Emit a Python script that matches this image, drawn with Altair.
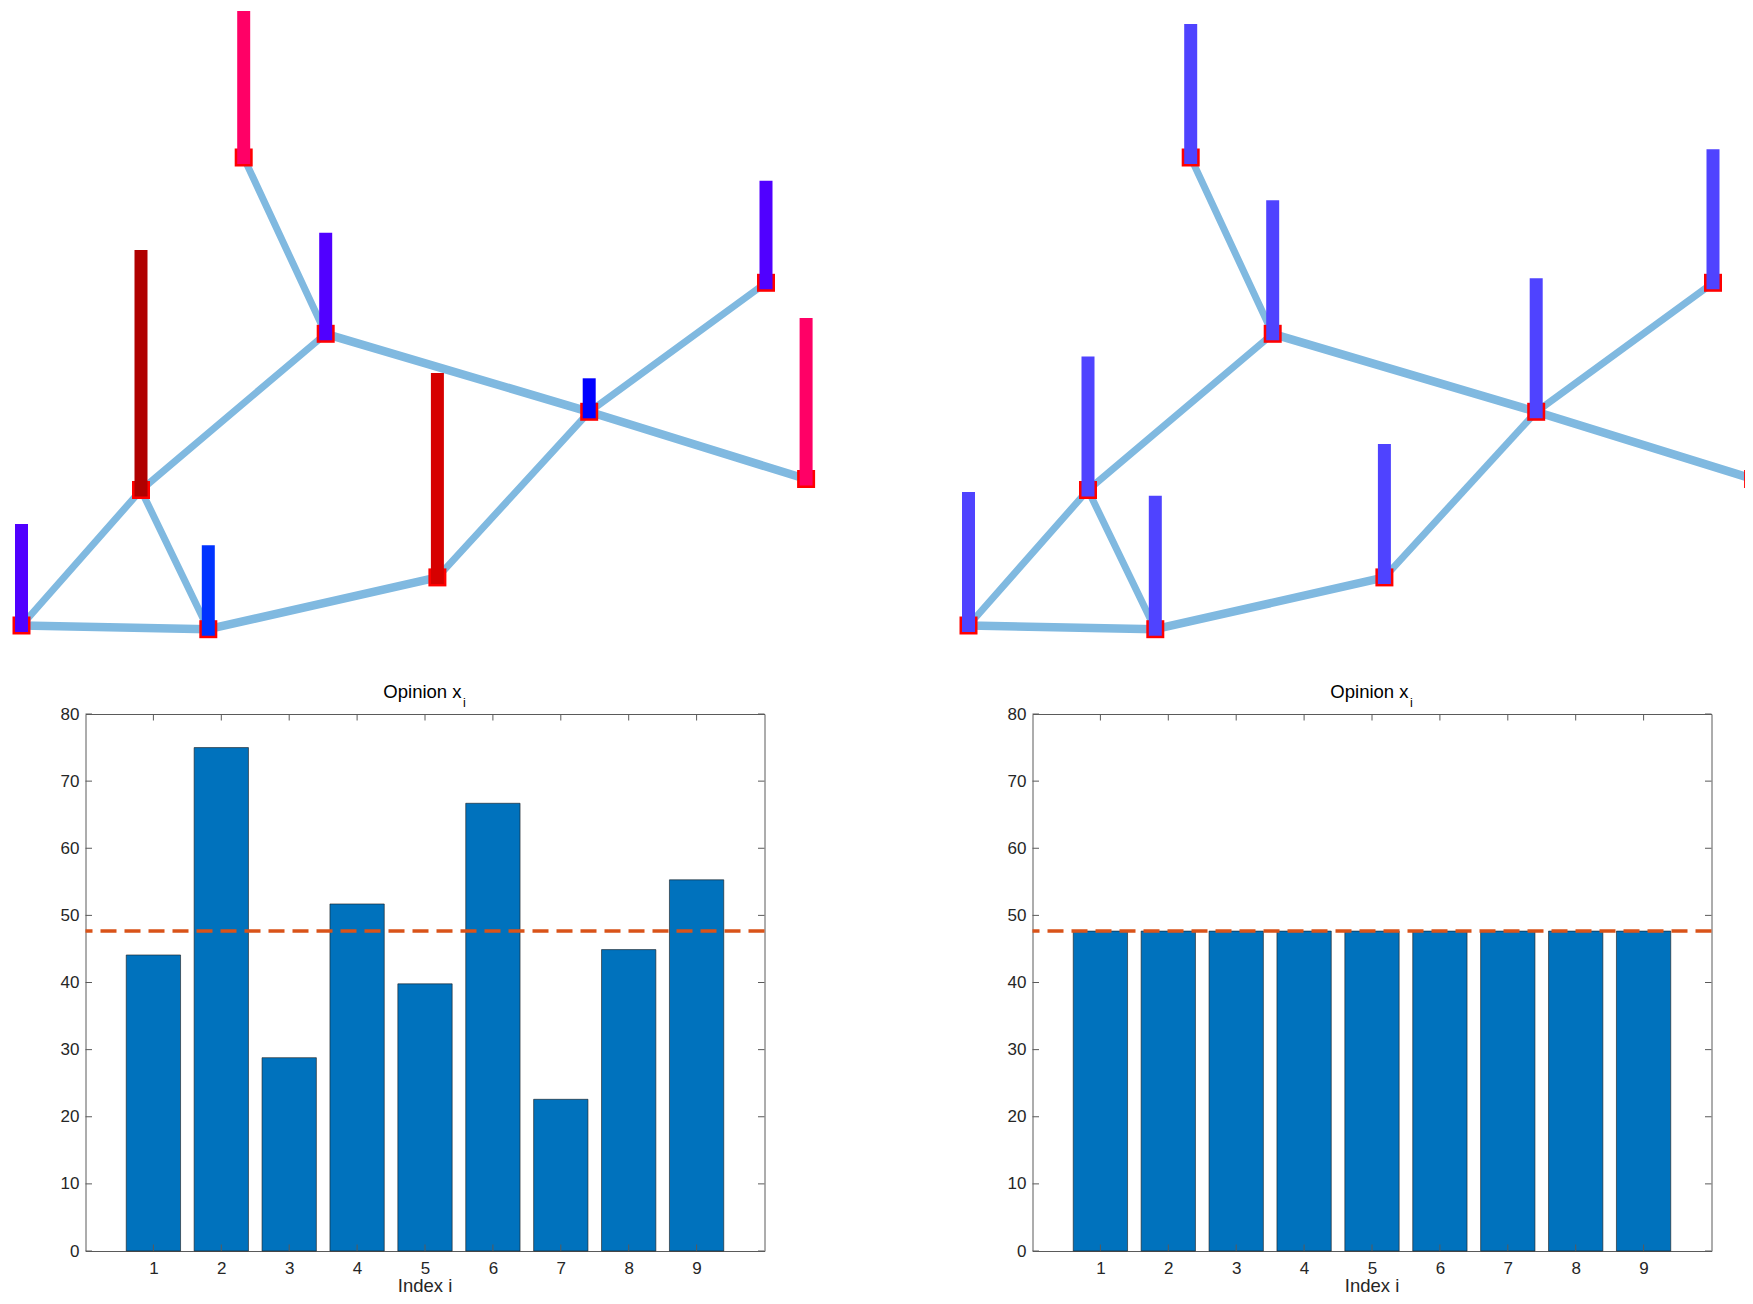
import altair as alt
import pandas as pd

FONT = "Liberation Sans"

# ---------------- network (graph layout) ----------------
node_id = ["1", "2", "3", "4", "5", "6", "7", "8", "9"]
node_x = [21.5, 141.0, 208.3, 243.7, 325.7, 437.4, 589.2, 766.0, 806.1]
node_y = [24.5, 160.0, 20.8, 492.5, 316.2, 72.6, 238.2, 367.2, 171.0]

edge_from = ["1", "1", "2", "2", "4", "5", "3", "6", "7", "7"]
edge_to = ["2", "3", "3", "5", "5", "7", "6", "7", "8", "9"]
edge_weight = [1, 2, 1, 1, 1, 2, 2, 1, 1, 2]

# stem heights above each node (layout units) and their colours
stem_before = [101.5, 240.0, 84.0, 146.5, 101.0, 204.5, 33.5, 102.0, 161.0]
stem_after = [133.5, 133.5, 133.5, 133.5, 133.5, 133.5, 133.5, 133.5, 133.5]
color_before = ["#5000FF", "#B00000", "#0033FF", "#FF0066", "#5000FF",
                "#D60000", "#0000FF", "#5000FF", "#FF0066"]
color_after = ["#4F43FF", "#4F43FF", "#4F43FF", "#4F43FF", "#4F43FF",
               "#4F43FF", "#4F43FF", "#4F43FF", "#4F43FF"]

# ---------------- bar charts ----------------
index_i = [1, 2, 3, 4, 5, 6, 7, 8, 9]
opinion_before = [44.1, 75.0, 28.8, 51.7, 39.8, 66.7, 22.6, 44.9, 55.3]
opinion_after = [47.66, 47.66, 47.66, 47.66, 47.66, 47.66, 47.66, 47.66, 47.66]
y_ticks = [0, 10, 20, 30, 40, 50, 60, 70, 80]
x_ticks = [1, 2, 3, 4, 5, 6, 7, 8, 9]

EDGE_COLOR = "#80B9E0"
AX = "#5a5a5a"
PW, PH = 679, 537      # bar plot area
GH = 640               # graph panel height

XS_G = alt.Scale(domain=[85.5, 764.5], nice=False, zero=False, padding=0)
YS_G = alt.Scale(domain=[2, 642], nice=False, zero=False, padding=0)


def graph_panel(stems, colors):
    pos = dict(zip(node_id, zip(node_x, node_y)))
    edges = pd.DataFrame({
        "x": [pos[a][0] for a in edge_from],
        "y": [pos[a][1] for a in edge_from],
        "x2": [pos[b][0] for b in edge_to],
        "y2": [pos[b][1] for b in edge_to],
        "w": edge_weight,
    })
    nodes = pd.DataFrame({
        "node": node_id,
        "x": node_x,
        "y": node_y,
        "top": [y + h for y, h in zip(node_y, stems)],
        "c": colors,
    })
    e = alt.Chart(edges).mark_rule(color=EDGE_COLOR, strokeCap="round").encode(
        x=alt.X("x:Q", scale=XS_G, axis=None),
        y=alt.Y("y:Q", scale=YS_G, axis=None),
        x2="x2:Q",
        y2="y2:Q",
        strokeWidth=alt.StrokeWidth("w:Q", scale=alt.Scale(domain=[1, 2], range=[7, 8.5]), legend=None),
    )
    m = alt.Chart(nodes).mark_square(size=324, color="#FF0000", opacity=1, filled=True).encode(
        x=alt.X("x:Q", scale=XS_G, axis=None),
        y=alt.Y("y:Q", scale=YS_G, axis=None),
    )
    s = alt.Chart(nodes).mark_bar(size=13, y2Offset=6.5, opacity=1).encode(
        x=alt.X("x:Q", scale=XS_G, axis=None),
        y=alt.Y("top:Q", scale=YS_G, axis=None),
        y2="y:Q",
        color=alt.Color("c:N", scale=None, legend=None),
    )
    return alt.layer(e, m, s).properties(width=PW, height=GH)


XS_B = alt.Scale(domain=[0, 10], nice=False, zero=False, padding=0)
YS_B = alt.Scale(domain=[0, 80], nice=False, zero=True, padding=0)

X_AXIS = alt.Axis(values=x_ticks, format="d", tickSize=0, labelPadding=9, title=None,
                  domain=False, grid=False, labelFont=FONT, labelFontSize=17,
                  labelColor="#262626", labelFlush=False)
Y_AXIS = alt.Axis(values=y_ticks, format="d", tickSize=0, labelPadding=6.5, title=None,
                  domain=False, grid=False, labelFont=FONT, labelFontSize=17,
                  labelColor="#262626", labelFlush=False)


def bar_panel(values):
    df = pd.DataFrame({"i": index_i, "v": values})
    bars = alt.Chart(df).transform_calculate(
        lo="datum.i - 0.4", hi="datum.i + 0.4"
    ).mark_bar(color="#0072BD", stroke="#1a1a1a", strokeWidth=0.6, opacity=1).encode(
        x=alt.X("lo:Q", scale=XS_B, axis=X_AXIS),
        x2="hi:Q",
        y=alt.Y("v:Q", scale=YS_B, axis=Y_AXIS),
        y2=alt.datum(0),
    )
    mean = alt.Chart(df).mark_rule(color="#D95319", strokeWidth=3.5, strokeDash=[16, 8]).encode(
        y=alt.Y("mean(v):Q", scale=YS_B, axis=Y_AXIS),
    )
    ty = pd.DataFrame({"t": y_ticks})
    tx = pd.DataFrame({"t": x_ticks})
    tl = alt.Chart(ty).mark_rule(color=AX, strokeWidth=1).encode(
        y=alt.Y("t:Q", scale=YS_B, axis=Y_AXIS), x=alt.value(0), x2=alt.value(6.5))
    tr = alt.Chart(ty).mark_rule(color=AX, strokeWidth=1).encode(
        y=alt.Y("t:Q", scale=YS_B, axis=Y_AXIS), x=alt.value(PW), x2=alt.value(PW - 6.5))
    tb = alt.Chart(tx).mark_rule(color=AX, strokeWidth=1).encode(
        x=alt.X("t:Q", scale=XS_B, axis=X_AXIS), y=alt.value(PH), y2=alt.value(PH - 6.5))
    tt = alt.Chart(tx).mark_rule(color=AX, strokeWidth=1).encode(
        x=alt.X("t:Q", scale=XS_B, axis=X_AXIS), y=alt.value(0), y2=alt.value(6.5))

    title_main = alt.Chart(pd.DataFrame({"s": ["Opinion x"]})).mark_text(
        align="right", baseline="alphabetic", font=FONT, fontSize=18.5, color="#000000"
    ).encode(text="s:N", x=alt.value(376), y=alt.value(-15.7))
    title_sub = alt.Chart(pd.DataFrame({"s": ["i"]})).mark_text(
        align="left", baseline="alphabetic", font=FONT, fontSize=12.5, color="#000000"
    ).encode(text="s:N", x=alt.value(377.5), y=alt.value(-6.7))
    xlabel = alt.Chart(pd.DataFrame({"s": ["Index i"]})).mark_text(
        align="center", baseline="alphabetic", font=FONT, fontSize=18.5, color="#262626"
    ).encode(text="s:N", x=alt.value(PW / 2), y=alt.value(PH + 41))

    return alt.layer(bars, mean, tl, tr, tb, tt, title_main, title_sub, xlabel).properties(
        width=PW, height=PH,
        view=alt.ViewBackground(stroke=AX, strokeWidth=1),
    )


chart = alt.concat(
    graph_panel(stem_before, color_before),
    graph_panel(stem_after, color_after),
    bar_panel(opinion_before),
    bar_panel(opinion_after),
    columns=2,
    spacing={"row": 66, "column": 268},
    bounds="flush",
    align="all",
).properties(
    padding={"left": 4.5, "top": 0, "right": -18, "bottom": 0},
).configure_view(strokeWidth=0)

chart.save("out.html", embed_options={"renderer": "svg", "actions": False})
